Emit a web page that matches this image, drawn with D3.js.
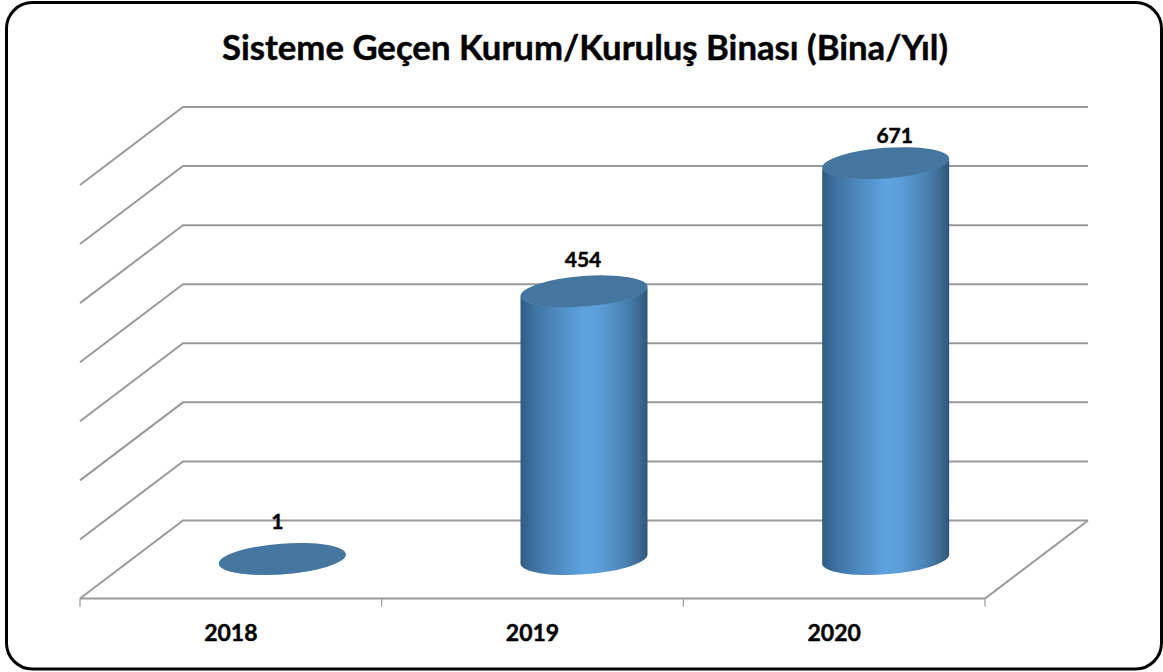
<!DOCTYPE html>
<html><head><meta charset="utf-8">
<script src="https://cdnjs.cloudflare.com/ajax/libs/d3/7.8.5/d3.min.js"></script>
<style>html,body{margin:0;padding:0;background:#fff}svg{display:block}text{font-family:Lato,"Open Sans",sans-serif;font-weight:700;fill:#000;stroke:#000;stroke-width:.45px}</style>
</head><body><svg id="c" width="1163" height="672"></svg>
<script>
const titleText = "Sisteme Geçen Kurum/Kuruluş Binası (Bina/Yıl)";
const years = ["2018","2019","2020"];
const values = [1,454,671];
const yTicks = [0,100,200,300,400,500,600,700];
const labelNudgeX = [-5,-1,9];
const labelNudgeY = [-37,-31,-27];

const depthX = 103, depthY = -78;
const x = d3.scaleBand().domain(years).range([80,985]);
const y = d3.scaleLinear().domain([0,700]).range([598.5,185]);
const svg = d3.select("#c");
const grid = "#9a9a9a";

const defs = svg.append("defs");
const g = defs.append("linearGradient").attr("id","cyl").attr("x1",0).attr("x2",1).attr("y1",0).attr("y2",0);
[[0,"#2f5c84"],[0.12,"#3f74a3"],[0.3,"#4f8bc2"],[0.5,"#5ea3e0"],[0.62,"#5b9ed9"],[0.82,"#4a82b3"],[0.93,"#3d6b94"],[1,"#2e5578"]]
  .forEach(([o,c])=>g.append("stop").attr("offset",o).attr("stop-color",c));

svg.append("rect").attr("x",6.5).attr("y",2.5).attr("width",1155).attr("height",666.5)
  .attr("rx",26).attr("ry",26).attr("fill","#fff").attr("stroke","#000").attr("stroke-width",3);

svg.append("text").attr("x",585).attr("y",60).attr("text-anchor","middle")
  .attr("font-size",35).attr("textLength",726).attr("lengthAdjust","spacingAndGlyphs").text(titleText);

const gl = svg.append("g").attr("stroke",grid).attr("stroke-width",2).attr("fill","none");
gl.selectAll("path.g").data(yTicks).join("path").attr("class","g")
  .attr("d",d=>`M${x.range()[0]},${y(d)}L${x.range()[0]+depthX},${y(d)+depthY}H${x.range()[1]+depthX}`);
gl.append("path").attr("d",`M${x.range()[0]},${y(0)}H${x.range()[1]}L${x.range()[1]+depthX},${y(0)+depthY}`);
const edges = [x.range()[0], ...years.map(d=>x(d)+x.bandwidth())];
gl.selectAll("line").data(edges).join("line").attr("stroke-width",1.2)
  .attr("x1",d=>d).attr("x2",d=>d).attr("y1",y(0)).attr("y2",y(0)+8);

const a = 63.7, b = 15.3, rot = -4.3, halfW = 63.5, skew = 4.5;
const cx = d=>x(d)+x.bandwidth()/2+depthX/2;
const baseY = y(0)+depthY/2;
const heightOf = v=>y(0)-y(v);

const bars = svg.append("g").selectAll("g").data(years.map((d,i)=>({year:d,value:values[i],i}))).join("g");
bars.append("path").attr("fill","url(#cyl)").attr("d",d=>{
  const c=cx(d.year), top=baseY-heightOf(d.value);
  return `M${c-halfW},${top+skew}L${c-halfW},${baseY+skew}`+
    `A${a},${b} ${rot} 0 0 ${c+halfW},${baseY-skew}`+
    `L${c+halfW},${top-skew}`+
    `A${a},${b} ${rot} 0 1 ${c-halfW},${top+skew}Z`;
});
bars.append("ellipse").attr("rx",a).attr("ry",b).attr("fill","#44769f")
  .attr("transform",d=>`translate(${cx(d.year)},${baseY-heightOf(d.value)}) rotate(${rot})`);
bars.append("text").attr("text-anchor","middle").attr("font-size",21)
  .attr("x",d=>cx(d.year)+labelNudgeX[d.i])
  .attr("y",d=>baseY-heightOf(d.value)+labelNudgeY[d.i]+7).text(d=>d.value);

svg.append("g").selectAll("text").data(years).join("text").attr("text-anchor","middle").attr("font-size",23)
  .attr("x",d=>x(d)+x.bandwidth()/2).attr("y",641).text(d=>d);
</script></body></html>
